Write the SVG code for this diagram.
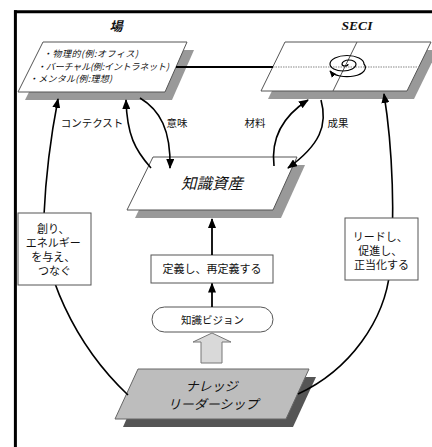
<svg xmlns="http://www.w3.org/2000/svg" width="432" height="447" viewBox="0 0 432 447">
<defs>
<style>
.jp{font-family:"Noto Sans CJK JP","Noto Sans",sans-serif;fill:#111}
.box{fill:#fff;stroke:#555;stroke-width:1}
.sh{fill:#999;stroke:none}
.ln{fill:none;stroke:#000;stroke-width:1.8}
.cur{fill:none;stroke:#000;stroke-width:1.6}
</style>
<marker id="ah" viewBox="0 0 10 8" refX="9" refY="4" markerWidth="10" markerHeight="8" markerUnits="userSpaceOnUse" orient="auto"><path d="M0,0 L10,4 L0,8 z" fill="#000"/></marker>
<marker id="ahs" viewBox="0 0 10 8" refX="9" refY="4" markerWidth="7" markerHeight="6" markerUnits="userSpaceOnUse" orient="auto"><path d="M0,0 L10,4 L0,8 z" fill="#000"/></marker>
</defs>
<rect width="432" height="447" fill="#fff"/>
<g id="frame">
<line x1="14" y1="11.7" x2="432" y2="11.7" stroke="#000" stroke-width="3"/>
<line x1="15.4" y1="10.2" x2="15.4" y2="447" stroke="#000" stroke-width="3"/>
</g>
<g id="ba">
<text class="jp" x="116" y="31" font-size="13" font-weight="bold" font-style="italic" text-anchor="middle">場</text>
<polygon class="sh" points="50,50 194,50 172,100 25,100"/>
<polygon class="box" points="43,42 187,42 165,92 18,92"/>
<text class="jp" font-size="9" font-style="italic">
<tspan x="43" y="57" textLength="95" lengthAdjust="spacing">・物理的(例:オフィス)</tspan>
<tspan x="37" y="69.5" textLength="132" lengthAdjust="spacing">・バーチャル(例:イントラネット)</tspan>
<tspan x="29" y="82" textLength="83" lengthAdjust="spacing">・メンタル(例:理想)</tspan>
</text>
</g>
<g id="seci">
<text x="357" y="30" font-family="Liberation Serif,serif" font-size="13.5" font-weight="bold" font-style="italic" text-anchor="middle" fill="#111">SECI</text>
<polygon class="sh" points="292,50 438,50 414,99 268,99"/>
<polygon class="box" points="285,42 431,42 407,91 261,91"/>
<line x1="273" y1="67" x2="419" y2="67" stroke="#888" stroke-width="1.2" stroke-dasharray="1.5,1"/>
<line x1="357" y1="42" x2="333" y2="91" stroke="#555" stroke-width="1"/>
<path d="M348,64 A3,2 0 0 1 342,64 A7,4 0 0 1 356,64 A13,7 0 0 1 330,64 A17,8.5 0 0 1 364,64 A18,9 0 0 1 330,71" fill="none" stroke="#000" stroke-width="1.2" marker-end="url(#ahs)"/>
</g>
<g id="asset">
<polygon class="sh" points="161,165 305,165 281,218 135,218"/>
<polygon class="box" points="153,157 297,157 273,210 127,210"/>
<text class="jp" x="212" y="189" font-size="15.5" font-style="italic" text-anchor="middle">知識資産</text>
</g>
<g id="define">
<rect class="box" x="151" y="255" width="122" height="28"/>
<text class="jp" x="212" y="273" font-size="11" text-anchor="middle">定義し、再定義する</text>
</g>
<g id="vision">
<rect class="box" x="152" y="307" width="121" height="25" rx="12.5" ry="12.5"/>
<text class="jp" x="212.5" y="323.5" font-size="10.5" text-anchor="middle">知識ビジョン</text>
</g>
<g id="bigarrow">
<polygon points="201,363 201,342 193,342 212,333 231,342 222,342 222,363" fill="#d9d9d9" stroke="#777" stroke-width="1"/>
</g>
<g id="leadership">
<polygon points="145,377 316,377 293,427 123,427" fill="#555"/>
<polygon points="138,369 309,369 286,419 115,419" fill="#bdbdbd" stroke="#666" stroke-width="1"/>
<text class="jp" font-size="13" font-style="italic" text-anchor="middle">
<tspan x="213" y="391">ナレッジ</tspan>
<tspan x="213" y="409">リーダーシップ</tspan>
</text>
</g>
<g id="connectors">
<line class="ln" x1="176" y1="67" x2="273" y2="67"/>
<line class="ln" x1="212" y1="255" x2="212" y2="219" marker-end="url(#ah)"/>
<line class="ln" x1="212" y1="307" x2="212" y2="283.5" marker-end="url(#ah)"/>
<path class="cur" d="M128,395 C75,345 40,270 44,215 C46,170 52,130 58,99" marker-end="url(#ah)"/>
<path class="cur" d="M298,394 C350,370 385,320 390,270 C395,220 393,150 384,94" marker-end="url(#ah)"/>
<path class="cur" d="M151,168 C135,150 127,135 126,100" marker-end="url(#ah)"/>
<path class="cur" d="M140,98 C160,110 171,130 170,168" marker-end="url(#ah)"/>
<path class="cur" d="M274,166 C271,140 280,118 308,100" marker-end="url(#ah)"/>
<path class="cur" d="M321,100 C328,125 320,145 288,168" marker-end="url(#ah)"/>
</g>
<g id="labels">
<text class="jp" x="92" y="127" font-size="10.5" text-anchor="middle">コンテクスト</text>
<text class="jp" x="177" y="127" font-size="10.5" text-anchor="middle">意味</text>
<text class="jp" x="255" y="127" font-size="10.5" text-anchor="middle">材料</text>
<text class="jp" x="338" y="127" font-size="10.5" text-anchor="middle">成果</text>
</g>
<g id="create">
<rect class="box" x="18" y="213" width="73" height="72"/>
<text class="jp" font-size="11" text-anchor="middle">
<tspan x="54.5" y="233">創り、</tspan>
<tspan x="54.5" y="247">エネルギー</tspan>
<tspan x="54.5" y="261">を与え、</tspan>
<tspan x="54.5" y="275">つなぐ</tspan>
</text>
</g>
<g id="lead">
<rect class="box" x="345" y="218" width="73" height="62"/>
<text class="jp" font-size="11" text-anchor="middle">
<tspan x="381.5" y="241">リードし、</tspan>
<tspan x="381.5" y="255">促進し、</tspan>
<tspan x="381.5" y="269">正当化する</tspan>
</text>
</g>
</svg>
